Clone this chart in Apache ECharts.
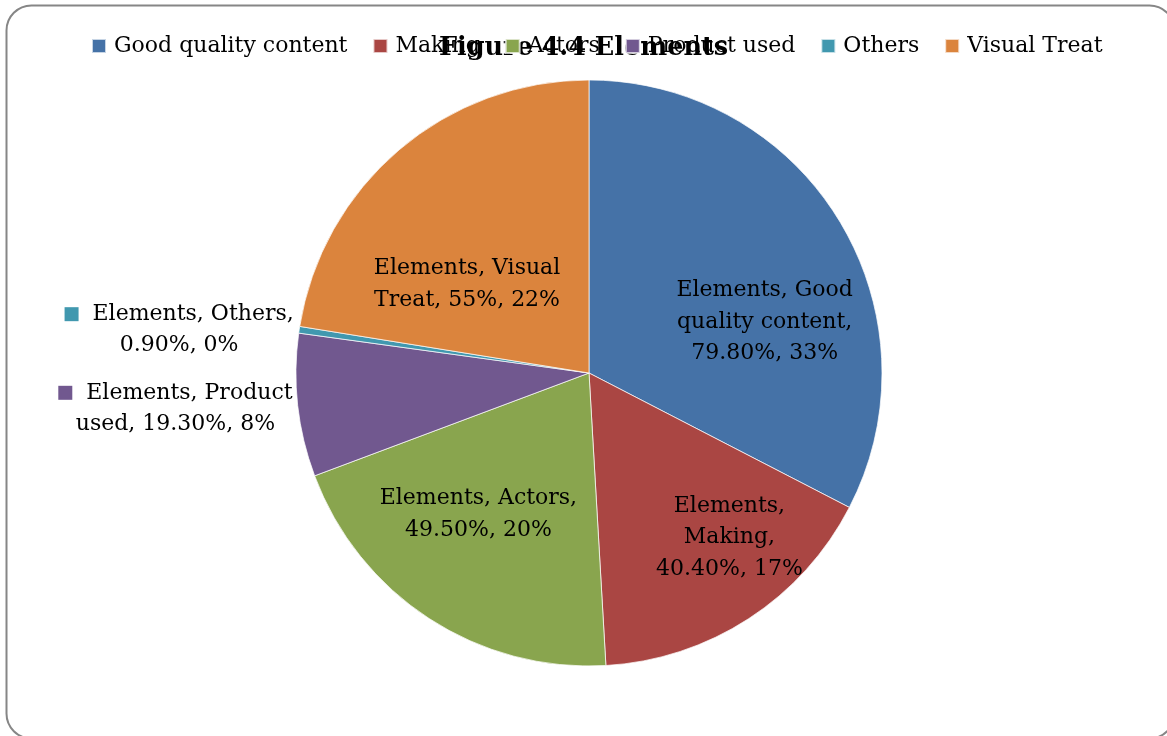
<!DOCTYPE html>
<html>
<head>
<meta charset="utf-8">
<script src="https://cdn.jsdelivr.net/npm/echarts@6/dist/echarts.min.js"></script>
<style>
  html, body { margin: 0; padding: 0; background: #ffffff; }
  #chart { width: 1167px; height: 736px; }
</style>
</head>
<body>
<div id="chart"></div>
<script>
// Share of respondents naming each element of an advertisement
const seriesName = 'Elements';
const categories = ['Good quality content', 'Making', 'Actors', 'Product used', 'Others', 'Visual Treat'];
const responses = [79.8, 40.4, 49.5, 19.3, 0.9, 55];
const valueLabels = ['79.80%', '40.40%', '49.50%', '19.30%', '0.90%', '55%'];
const shareLabels = ['33%', '17%', '20%', '8%', '0%', '22%'];
const colors = ['#4572A7', '#AA4643', '#89A54E', '#71588F', '#4198AF', '#DB843D'];

const FONT = 'DejaVu Serif';
const FS = 22;

// label placement tweaks relative to the default inside position
const labelOffsets = [[48, 27], [59, 39], [-29, 16], [-265, 19], [-262, -21], [-25, 25]];
// text broken into lines the way each label wraps
function labelText(i) {
  const v = valueLabels[i];
  const s = shareLabels[i];
  switch (i) {
    case 0: return `${seriesName}, Good\nquality content,\n${v}, ${s}`;
    case 1: return `${seriesName},\nMaking,\n${v}, ${s}`;
    case 2: return `${seriesName}, Actors,\n${v}, ${s}`;
    case 3: return `{k${i}|}  ${seriesName}, Product\nused, ${v}, ${s}`;
    case 4: return `{k${i}|}  ${seriesName}, Others,\n${v}, ${s}`;
    case 5: return `${seriesName}, Visual\nTreat, ${v}, ${s}`;
  }
}

const rich = {};
colors.forEach((c, i) => {
  rich['k' + i] = { width: 14, height: 14, backgroundColor: c };
});

const data = categories.map((name, i) => ({
  name,
  value: responses[i],
  itemStyle: { color: colors[i] },
  label: {
    formatter: labelText(i),
    offset: labelOffsets[i]
  }
}));

const chart = echarts.init(document.getElementById('chart'), null, { renderer: 'canvas' });
chart.setOption({
  backgroundColor: '#ffffff',
  animation: false,
  title: {
    text: 'Figure 4.4 Elements',
    left: 'center',
    top: 30,
    z: 1,
    textStyle: { fontFamily: FONT, fontSize: 25.5, fontWeight: 'bold', color: '#000' }
  },
  legend: {
    left: 91,
    top: 35,
    padding: 0,
    z: 5,
    icon: 'rect',
    itemWidth: 14,
    itemHeight: 14,
    itemGap: 25,
    textStyle: { fontFamily: FONT, fontSize: FS, color: '#000', padding: [0, 0, 0, 3] },
    data: categories
  },
  graphic: [{
    type: 'rect',
    shape: { x: 6.5, y: 5.5, width: 1168, height: 733, r: 25 },
    style: { fill: null, stroke: '#868686', lineWidth: 2 },
    silent: true
  }],
  series: [{
    name: seriesName,
    type: 'pie',
    center: [589, 373],
    radius: 293,
    startAngle: 90,
    clockwise: true,
    avoidLabelOverlap: false,
    itemStyle: { borderColor: 'rgba(255,255,255,0.7)', borderWidth: 1 },
    label: {
      show: true,
      position: 'inside',
      color: '#000',
      fontFamily: FONT,
      fontSize: FS,
      lineHeight: 31.5,
      align: 'center',
      rich
    },
    labelLine: { show: false },
    emphasis: { disabled: true },
    data
  }]
});
</script>
</body>
</html>
